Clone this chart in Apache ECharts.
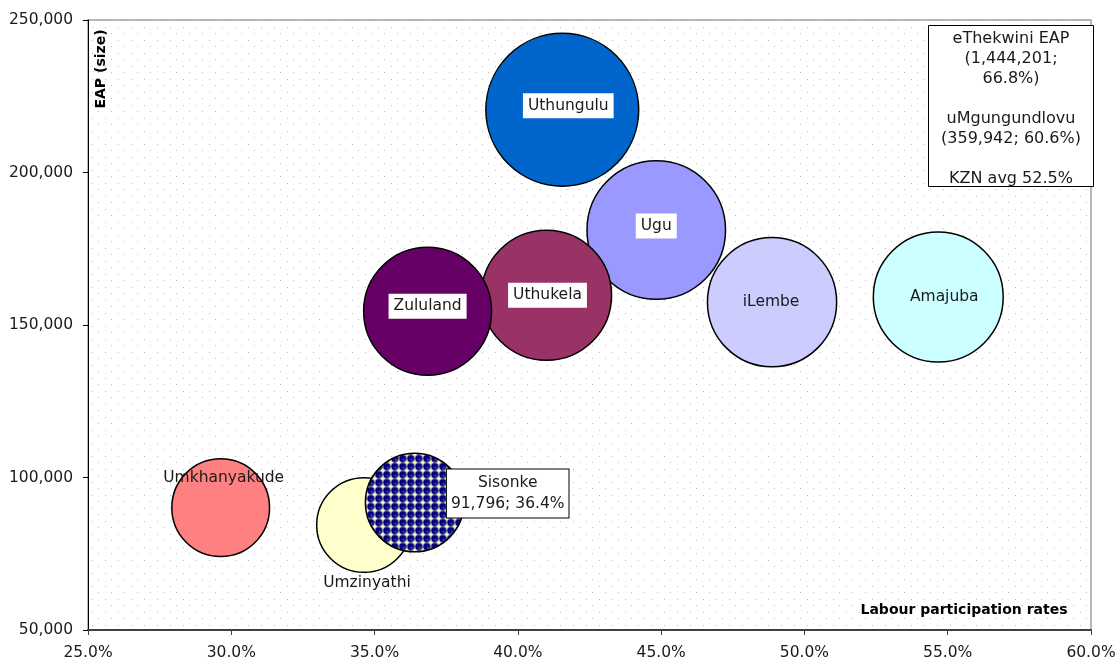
<!DOCTYPE html>
<html>
<head>
<meta charset="utf-8">
<title>KZN labour participation vs EAP</title>
<script src="https://cdn.jsdelivr.net/npm/echarts@6/dist/echarts.min.js"></script>
<style>
  html, body { margin: 0; padding: 0; background: #fff; }
  #main { width: 1120px; height: 664px; }
</style>
</head>
<body>
<div id="main"></div>
<script>
// districts, labour participation rate (%) and economically active population
const districts = ['Uthungulu', 'Ugu', 'Uthukela', 'Zululand', 'iLembe', 'Amajuba', 'Umkhanyakude', 'Umzinyathi', 'Sisonke'];
const participationRate = [41.55, 44.83, 41.0, 36.85, 48.87, 54.67, 29.63, 34.63, 36.4];
const eapSize = [220560, 181150, 159740, 154490, 157480, 159180, 90100, 84430, 91796];

// axis ticks
const xMin = 25, xMax = 60, xStep = 5;
const yMin = 50000, yMax = 250000, yStep = 50000;

// note in the top right corner
const noteLines = ['eThekwini EAP', '(1,444,201;', '66.8%)', '', 'uMgungundlovu', '(359,942; 60.6%)', '', 'KZN avg 52.5%'];

const bubbleColors = ['#0066CC', '#9999FF', '#993366', '#660066', '#CCCCFF', '#CCFFFF', '#FF8080', '#FFFFCC', null];

const FONT = '"DejaVu Sans", Verdana, sans-serif';
const bubbleDiameter = v => 0.3255 * Math.sqrt(v);

// dotted plot background
function dotPattern() {
    let c = document.createElement('canvas');
    c.width = 13; c.height = 13;
    let ctx = c.getContext('2d');
    ctx.fillStyle = '#ffffff';
    ctx.fillRect(0, 0, 13, 13);
    ctx.fillStyle = '#bcbcbc';
    ctx.fillRect(1, 1, 1, 1);
    ctx.fillRect(7, 7, 1, 1);
    return c;
}

// navy "balls" fill used for Sisonke
function ballPattern() {
    let c = document.createElement('canvas');
    c.width = 8; c.height = 8;
    let ctx = c.getContext('2d');
    ctx.fillStyle = '#FFFFCC';
    ctx.fillRect(0, 0, 8, 8);
    ctx.fillStyle = '#000080';
    ctx.beginPath();
    ctx.arc(4, 4, 3.7, 0, Math.PI * 2);
    ctx.fill();
    ctx.fillStyle = '#5a5ab0';
    ctx.fillRect(4, 4.5, 2, 1.5);
    return c;
}

// label tweaks per bubble (offsets from centre)
const whiteBox = { backgroundColor: '#fff', padding: [5, 5, 4, 5] };
const labelTweaks = {
    Uthungulu: Object.assign({ offset: [6, -4] }, whiteBox),
    Ugu: Object.assign({ offset: [0, -4] }, whiteBox),
    Uthukela: Object.assign({ offset: [1, 0] }, whiteBox),
    Zululand: Object.assign({ offset: [0, -5] }, whiteBox),
    iLembe: { offset: [-1, 0] },
    Amajuba: { offset: [6, 0] },
    Umkhanyakude: { offset: [3, -30] },
    Umzinyathi: { offset: [3, 58] },
    Sisonke: {
        offset: [93, -9],
        backgroundColor: '#fff',
        borderColor: '#000',
        borderWidth: 1,
        padding: [3, 4, 3, 4],
        lineHeight: 21,
        formatter: p => p.name + '\n' + p.value[1].toLocaleString('en-US') + '; ' + p.value[0].toFixed(1) + '%'
    }
};

let chart = echarts.init(document.getElementById('main'));

let seriesData = districts.map((name, i) => {
    // symbols are drawn at unit size and scaled, so the pattern is scaled back
    let s = 2 / bubbleDiameter(eapSize[i]);
    return {
        name: name,
        value: [participationRate[i], eapSize[i]],
        itemStyle: {
            color: bubbleColors[i] || { image: ballPattern(), repeat: 'repeat', scaleX: s, scaleY: s }
        },
        label: labelTweaks[name]
    };
});

let option = {
    animation: false,
    grid: {
        left: 88, right: 29, top: 20, bottom: 34,
        outerBoundsMode: 'none',
        show: true,
        borderColor: '#a0a0a0',
        borderWidth: 1.5,
        backgroundColor: { image: dotPattern(), repeat: 'repeat' }
    },
    xAxis: {
        type: 'value',
        min: xMin, max: xMax, interval: xStep,
        axisLine: { show: true, lineStyle: { color: '#404040', width: 2 } },
        axisTick: { show: true, length: 5, lineStyle: { color: '#404040' } },
        splitLine: { show: false },
        axisLabel: {
            margin: 15, fontSize: 15.5, color: '#1a1a1a', fontFamily: FONT,
            formatter: v => v.toFixed(1) + '%'
        }
    },
    yAxis: {
        type: 'value',
        min: yMin, max: yMax, interval: yStep,
        axisLine: { show: true, lineStyle: { color: '#000', width: 1 } },
        axisTick: { show: true, length: 5, lineStyle: { color: '#000' } },
        splitLine: { show: false },
        axisLabel: {
            margin: 15, fontSize: 15.5, color: '#1a1a1a', fontFamily: FONT,
            formatter: v => v.toLocaleString('en-US')
        }
    },
    series: [{
        type: 'scatter',
        data: seriesData,
        symbol: 'circle',
        symbolSize: v => bubbleDiameter(v[1]),
        itemStyle: { borderColor: '#000', borderWidth: 1.5, opacity: 1 },
        label: {
            show: true,
            position: 'inside',
            formatter: '{b}',
            fontSize: 15.5,
            fontFamily: FONT,
            color: '#1a1a1a'
        },
        emphasis: { disabled: true }
    }],
    graphic: [
        {
            type: 'group',
            left: 928, top: 25,
            children: [
                {
                    type: 'rect',
                    shape: { x: 0, y: 0, width: 165, height: 161 },
                    style: { fill: '#fff', stroke: '#000', lineWidth: 1 }
                },
                {
                    type: 'text',
                    x: 82.5, y: 3,
                    style: {
                        text: noteLines.join('\n'),
                        font: '16px ' + FONT,
                        fill: '#1a1a1a',
                        align: 'center',
                        verticalAlign: 'top',
                        lineHeight: 20
                    }
                }
            ]
        },
        {
            type: 'text',
            x: 101, y: 69,
            rotation: Math.PI / 2,
            style: {
                text: 'EAP (size)',
                font: 'bold 14px ' + FONT,
                fill: '#000',
                align: 'center',
                verticalAlign: 'middle'
            }
        },
        {
            type: 'text',
            x: 964, y: 610,
            style: {
                text: 'Labour participation rates',
                font: 'bold 14px ' + FONT,
                fill: '#000',
                align: 'center',
                verticalAlign: 'middle'
            }
        }
    ]
};

chart.setOption(option);
</script>
</body>
</html>
